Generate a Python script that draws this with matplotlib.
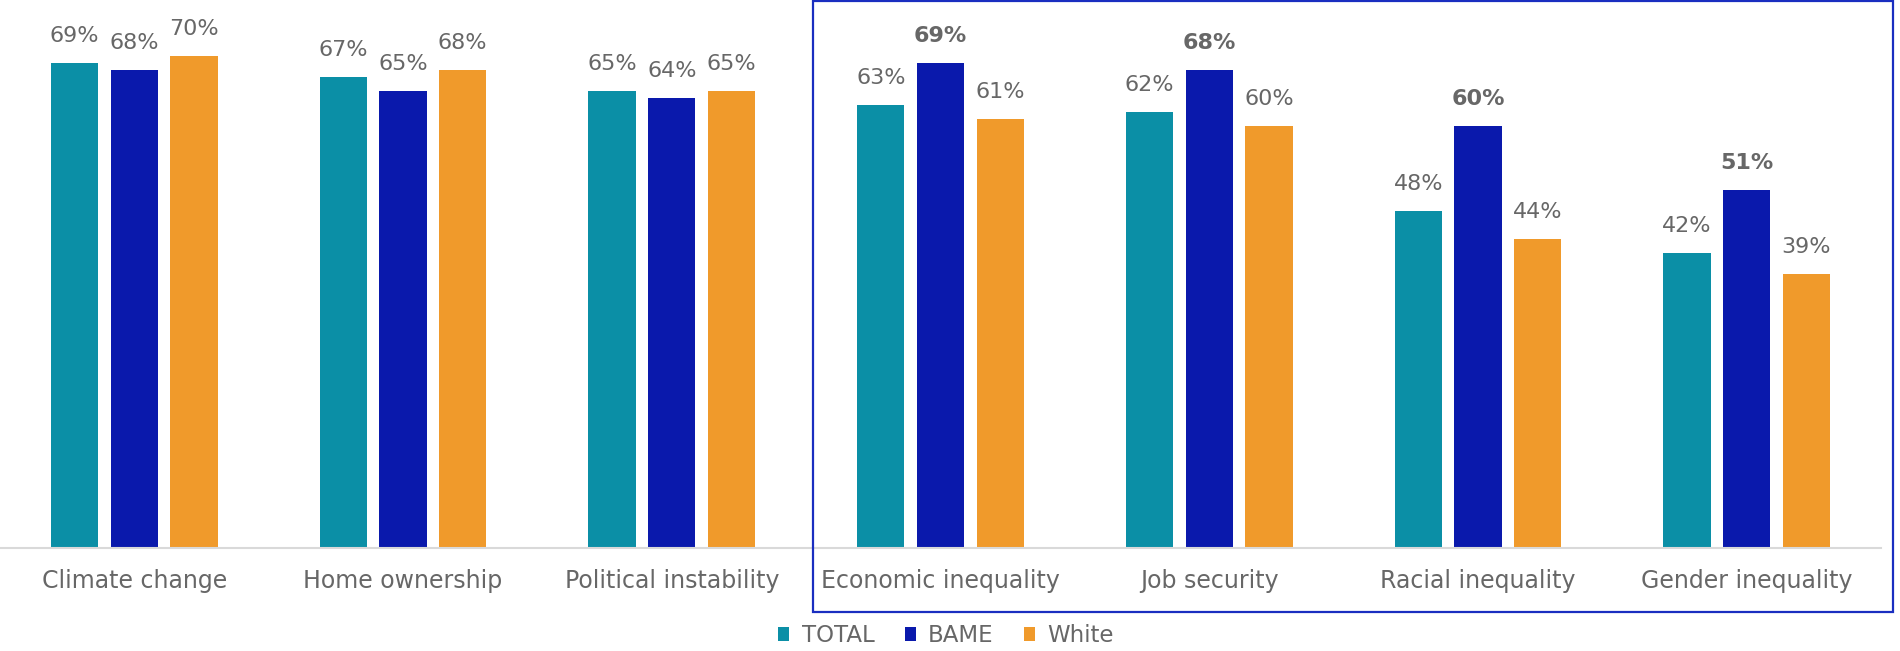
import matplotlib
matplotlib.use("Agg")
import matplotlib.pyplot as plt
from matplotlib.patches import Rectangle
import numpy as np

categories = ["Climate change", "Home ownership", "Political instability",
              "Economic inequality", "Job security", "Racial inequality",
              "Gender inequality"]
series_names = ["TOTAL", "BAME", "White"]
total = [69, 67, 65, 63, 62, 48, 42]
bame = [68, 65, 64, 69, 68, 60, 51]
white = [70, 68, 65, 61, 60, 44, 39]
# categories inside the highlighted box (BAME value in bold there)
highlighted = ["Economic inequality", "Job security", "Racial inequality",
               "Gender inequality"]

colors = ["#0B8FA6", "#0A19AC", "#F09A2B"]
text_gray = "#676767"
font = ["DejaVu Sans"]

W, H = 1900, 651
fig = plt.figure(figsize=(W / 100, H / 100), dpi=100)
ax = fig.add_axes([0.0, (H - 548) / H, 1881 / W, 548 / H])

x = np.arange(len(categories))
width = 0.176
step = 0.222
values = [total, bame, white]
for i, (name, vals, col) in enumerate(zip(series_names, values, colors)):
    pos = x + (i - 1) * step
    ax.bar(pos, vals, width=width, color=col, label=name, zorder=2)
    for cat, p, v in zip(categories, pos, vals):
        bold = (name == "BAME" and cat in highlighted)
        ax.annotate(f"{v}%", (p, v), xytext=(0, 19.5), textcoords="offset points",
                    ha="center", va="center", fontsize=16,
                    fontweight="bold" if bold else "normal",
                    color=text_gray, family=font)

ax.set_xlim(-0.5, 6.5)
ax.set_ylim(0, 78)
ax.set_yticks([])
for s in ["left", "right", "top"]:
    ax.spines[s].set_visible(False)
ax.spines["bottom"].set_color("#D9D9D9")
ax.spines["bottom"].set_linewidth(1.5)
ax.set_xticks(x)
ax.set_xticklabels(categories, fontsize=17, color=text_gray, family=font)
ax.tick_params(axis="x", length=0, pad=15)

# frame around the inequality-related groups
fig.patches.append(Rectangle((813 / W, (H - 612) / H), (1893 - 813) / W,
                             612 / H - 0.0015, transform=fig.transFigure,
                             fill=False, edgecolor="#1A2EC0", linewidth=1.6))

leg = fig.legend(loc="center", bbox_to_anchor=(946 / W, 1 - 636 / H),
                 ncol=3, frameon=False, handlelength=0.48, handleheight=0.55,
                 handletextpad=0.55, columnspacing=1.3,
                 prop={"family": font, "size": 16.5})
for t in leg.get_texts():
    t.set_color(text_gray)

fig.savefig("out.png", dpi=100, facecolor="white")
